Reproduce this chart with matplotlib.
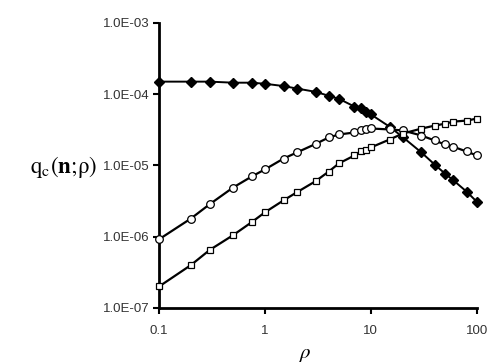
import numpy as np
import matplotlib.pyplot as plt
from matplotlib.ticker import FixedLocator, FixedFormatter, NullLocator

plt.rcParams["font.family"] = ["Liberation Sans", "DejaVu Sans"]
plt.rcParams["mathtext.fontset"] = "stix"

rho = [0.1, 0.2, 0.3, 0.5, 0.75, 1, 1.5, 2, 3, 4, 5, 7, 8, 9, 10,
       15, 20, 30, 40, 50, 60, 80, 100]

# filled diamonds
q_diamond = [1.5e-4, 1.5e-4, 1.5e-4, 1.45e-4, 1.45e-4, 1.40e-4, 1.30e-4, 1.20e-4,
             1.08e-4, 9.5e-5, 8.6e-5, 6.7e-5, 6.3e-5, 5.7e-5, 5.2e-5,
             3.5e-5, 2.5e-5, 1.52e-5, 1.03e-5, 7.7e-6, 6.2e-6, 4.3e-6, 3.1e-6]
# open circles
q_circle = [9.2e-7, 1.8e-6, 2.85e-6, 4.9e-6, 7.0e-6, 8.8e-6, 1.25e-5, 1.52e-5,
            2.0e-5, 2.47e-5, 2.72e-5, 2.9e-5, 3.15e-5, 3.25e-5, 3.3e-5,
            3.2e-5, 3.1e-5, 2.63e-5, 2.24e-5, 1.97e-5, 1.83e-5, 1.57e-5, 1.38e-5]
# open squares
q_square = [2.0e-7, 4.0e-7, 6.5e-7, 1.05e-6, 1.6e-6, 2.2e-6, 3.24e-6, 4.2e-6,
            6.0e-6, 8.2e-6, 1.07e-5, 1.38e-5, 1.57e-5, 1.67e-5, 1.79e-5,
            2.31e-5, 2.8e-5, 3.29e-5, 3.62e-5, 3.85e-5, 4.12e-5, 4.26e-5, 4.54e-5]

xticks = [0.1, 1, 10, 100]
xlabels = ["0.1", "1", "10", "100"]
yticks = [1e-7, 1e-6, 1e-5, 1e-4, 1e-3]
ylabels = ["1.0E-07", "1.0E-06", "1.0E-05", "1.0E-04", "1.0E-03"]

fig = plt.figure(figsize=(4.88, 3.64), dpi=100)
ax = fig.add_axes([0.326, 0.154, 0.651, 0.783])

ax.plot(rho, q_diamond, color="black", lw=1.4, marker="D", ms=5.5,
        mfc="black", mec="black", clip_on=False, zorder=3)
ax.plot(rho, q_circle, color="black", lw=1.6, marker="o", ms=5.5,
        mfc="white", mec="black", mew=0.9, clip_on=False, zorder=3)
ax.plot(rho, q_square, color="black", lw=1.6, marker="s", ms=4.5,
        mfc="white", mec="black", mew=0.9, clip_on=False, zorder=3)

ax.set_xscale("log")
ax.set_yscale("log")
ax.set_xlim(0.1, 100)
ax.set_ylim(1e-7, 1e-3)
ax.xaxis.set_major_locator(FixedLocator(xticks))
ax.xaxis.set_major_formatter(FixedFormatter(xlabels))
ax.xaxis.set_minor_locator(NullLocator())
ax.yaxis.set_major_locator(FixedLocator(yticks))
ax.yaxis.set_major_formatter(FixedFormatter(ylabels))
ax.yaxis.set_minor_locator(NullLocator())

for s in ["top", "right"]:
    ax.spines[s].set_visible(False)
for s in ["left", "bottom"]:
    ax.spines[s].set_linewidth(2)
ax.tick_params(direction="out", length=4, width=1.5, labelsize=9.5,
               labelcolor="#333333", pad=3)
ax.tick_params(axis="x", pad=8)

fig.text(0.13, 0.541, r"$\mathrm{q_c(}\mathbf{n}\mathrm{;}\!\mathrm{ρ)}$",
         fontsize=16.5, ha="center", va="center")
fig.text(0.625, 0.0, r"$\rho$", fontsize=15, ha="center", va="bottom")

fig.savefig("out.png", dpi=100)
